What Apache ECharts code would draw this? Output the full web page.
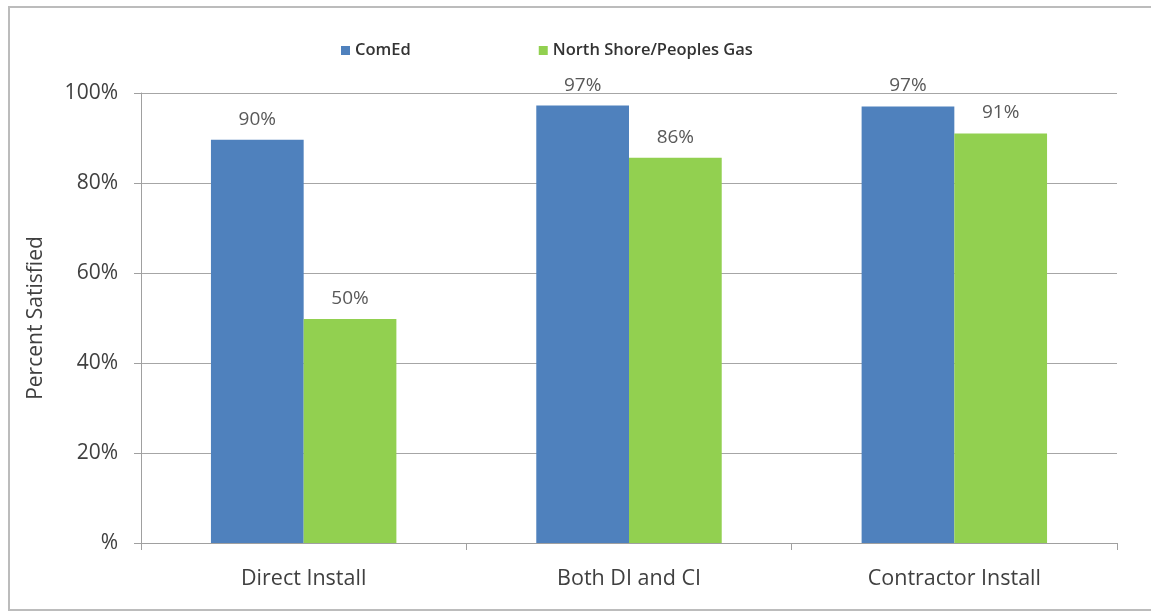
<!DOCTYPE html>
<html>
<head>
<meta charset="utf-8">
<script src="https://cdn.jsdelivr.net/npm/echarts@6/dist/echarts.min.js"></script>
<style>
html,body{margin:0;padding:0;background:#fff;}
#main{width:1151px;height:612px;}
</style>
</head>
<body>
<div id="main"></div>
<script>
const categories = ['Direct Install', 'Both DI and CI', 'Contractor Install'];
const seriesNames = ['ComEd', 'North Shore/Peoples Gas'];
const comEd = [89.6, 97.2, 97.0];
const northShore = [49.8, 85.6, 91.0];
const yTicks = [0, 20, 40, 60, 80, 100];

const font = 'Open Sans';
const chart = echarts.init(document.getElementById('main'));
chart.setOption({
  animation: false,
  backgroundColor: '#fff',
  graphic: [{
    type: 'rect',
    shape: { x: 9, y: 7, width: 1200, height: 603 },
    style: { fill: 'none', stroke: '#bcbcbc', lineWidth: 2 },
    silent: true, z: -1
  }],
  legend: {
    left: 336, top: 37,
    itemWidth: 9, itemHeight: 9, itemGap: 128,
    icon: 'rect',
    textStyle: { fontFamily: font, fontSize: 16.5, fontWeight: 600, color: '#333' },
    data: seriesNames
  },
  grid: { left: 141, right: 34, top: 93, bottom: 69 },
  xAxis: {
    type: 'category',
    data: categories,
    axisLine: { lineStyle: { color: '#a0a0a0', width: 1 } },
    axisTick: { show: true, length: 7, lineStyle: { color: '#a0a0a0' } },
    axisLabel: { margin: 25, fontFamily: font, fontSize: 21.5, color: '#404040' }
  },
  yAxis: {
    type: 'value',
    min: yTicks[0], max: yTicks[yTicks.length - 1], interval: 20,
    name: 'Percent Satisfied',
    nameLocation: 'middle',
    nameGap: 94,
    nameTextStyle: { fontFamily: font, fontSize: 21, color: '#404040' },
    axisLine: { show: true, lineStyle: { color: '#a0a0a0', width: 1 } },
    axisTick: { show: true, length: 7, lineStyle: { color: '#a0a0a0' } },
    splitLine: { lineStyle: { color: '#a6a6a6', width: 1 } },
    axisLabel: {
      margin: 23, fontFamily: font, fontSize: 21, color: '#404040',
      formatter: v => (v === 0 ? '%' : v + '%')
    }
  },
  series: [
    {
      name: seriesNames[0], type: 'bar', data: comEd,
      barCategoryGap: '43%', barGap: '0%',
      itemStyle: { color: '#4f81bd' },
      label: { show: true, position: 'top', distance: 11, fontFamily: font, fontSize: 19, color: '#595959',
        formatter: p => Math.round(p.value) + '%' }
    },
    {
      name: seriesNames[1], type: 'bar', data: northShore,
      barCategoryGap: '43%', barGap: '0%',
      itemStyle: { color: '#92d050' },
      label: { show: true, position: 'top', distance: 11, fontFamily: font, fontSize: 19, color: '#595959',
        formatter: p => Math.round(p.value) + '%' }
    }
  ]
});
</script>
</body>
</html>
